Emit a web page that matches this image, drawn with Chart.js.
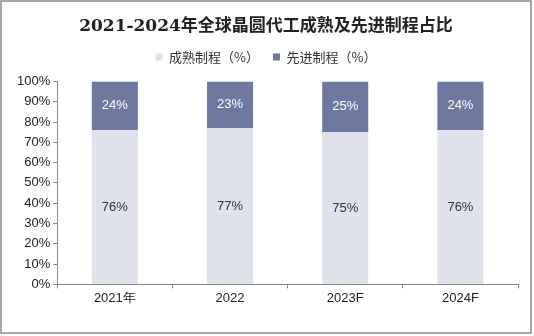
<!DOCTYPE html>
<html>
<head>
<meta charset="utf-8">
<script src="https://cdn.jsdelivr.net/npm/chart.js@4"></script>
<style>
    html, body { margin: 0; padding: 0; background: #fff; }
    #wrap { position: relative; width: 534px; height: 336px; }
</style>
</head>
<body>
<div id="wrap"><canvas id="chart" width="534" height="336"></canvas></div>
<script>
// chart data
var years = ['2021年', '2022', '2023F', '2024F'];
var matureShare = [76, 77, 75, 76];
var advancedShare = [24, 23, 25, 24];
var seriesNames = ['成熟制程（%）', '先进制程（%）'];

// draws value labels in the middle of each bar segment
var barLabels = {
    id: 'barLabels',
    afterDatasetsDraw: function (chart) {
        var ctx = chart.ctx;
        ctx.save();
        ctx.font = '13px "Liberation Sans", Arial, sans-serif';
        ctx.textAlign = 'center';
        ctx.textBaseline = 'middle';
        chart.data.datasets.forEach(function (ds, i) {
            var meta = chart.getDatasetMeta(i);
            ctx.fillStyle = i === 0 ? '#333333' : '#ffffff';
            meta.data.forEach(function (bar, j) {
                var mid = (bar.y + bar.base) / 2;
                ctx.fillText(ds.data[j] + '%', bar.x, mid);
            });
        });
        ctx.restore();
    }
};

// extra room under the legend
var legendGap = {
    id: 'legendGap',
    beforeInit: function (chart) {
        var fit = chart.legend.fit;
        chart.legend.fit = function () {
            fit.bind(chart.legend)();
            this.height += 8;
        };
    }
};

// gray frame round the picture
var frame = {
    id: 'frame',
    afterDraw: function (chart) {
        var ctx = chart.ctx;
        ctx.save();
        ctx.strokeStyle = '#8a8a8a';
        ctx.lineWidth = 1.5;
        ctx.strokeRect(1, 1, chart.width - 4, chart.height - 4);
        ctx.restore();
    }
};

var ctx = document.getElementById('chart').getContext('2d');
new Chart(ctx, {
    type: 'bar',
    data: {
        labels: years,
        datasets: [
            {
                label: seriesNames[0],
                data: matureShare,
                backgroundColor: '#dfe2eb',
                barPercentage: 0.4,
                categoryPercentage: 1
            },
            {
                label: seriesNames[1],
                data: advancedShare,
                backgroundColor: '#6f78a1',
                barPercentage: 0.4,
                categoryPercentage: 1
            }
        ]
    },
    options: {
        responsive: false,
        animation: false,
        layout: { padding: { left: 14, right: 16, top: 8, bottom: 28 } },
        plugins: {
            title: {
                display: true,
                text: '2021-2024年全球晶圆代工成熟及先进制程占比',
                color: '#222222',
                font: { family: '"DejaVu Serif", "Noto Sans CJK SC", serif', size: 17, weight: 'bold' },
                padding: { top: 8, bottom: 0 }
            },
            legend: {
                position: 'top',
                labels: {
                    color: '#333333',
                    font: { family: '"Noto Sans CJK SC", sans-serif', size: 13 },
                    boxWidth: 7,
                    boxHeight: 7,
                    padding: 14
                }
            },
            tooltip: { enabled: false }
        },
        scales: {
            x: {
                stacked: true,
                grid: { drawOnChartArea: false, tickLength: 4, color: '#888888', offset: true },
                border: { color: '#888888' },
                ticks: {
                    color: '#222222',
                    font: { family: '"Liberation Sans", Arial, sans-serif', size: 13 },
                    padding: 2
                }
            },
            y: {
                stacked: true,
                min: 0,
                max: 100,
                grid: { drawOnChartArea: false, tickLength: 4, color: '#888888' },
                border: { color: '#888888' },
                ticks: {
                    stepSize: 10,
                    color: '#222222',
                    font: { family: '"Liberation Sans", Arial, sans-serif', size: 13 },
                    padding: 3,
                    callback: function (v) { return v + '%'; }
                }
            }
        }
    },
    plugins: [barLabels, legendGap, frame]
});
</script>
</body>
</html>
